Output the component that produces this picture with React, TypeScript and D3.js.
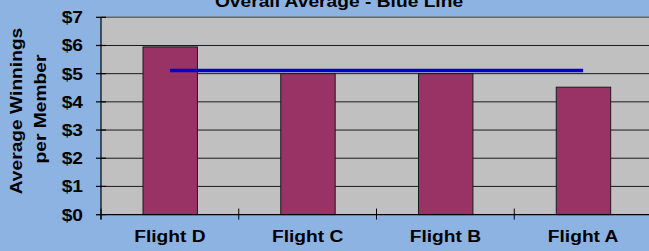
import React from "react";
import * as d3 from "d3";

const categories = ["Flight D", "Flight C", "Flight B", "Flight A"];
const values = [5.95, 5.0, 5.0, 4.52];
const averageValue = 5.11;
const yTicks = [0, 1, 2, 3, 4, 5, 6, 7];
const titleText = "Overall Average - Blue Line";
const yTitleLines = ["Average Winnings", "per Member"];

const W = 649;
const H = 251;
const plotLeft = 101;
const plotRight = 652;
const plotTop = 17.3;
const plotBottom = 214.6;
const FONT = "Liberation Sans, Arial, sans-serif";
const SX = 1.13;

export default function App() {
  const x = d3.scaleBand<string>().domain(categories).range([plotLeft, plotRight]).padding(0);
  const step = x.step();
  const y = d3.scaleLinear().domain([0, 7]).range([plotBottom, plotTop]);
  const lineGen = d3
    .line<number>()
    .x((_, i) => (x(categories[i]) as number) + step / 2)
    .y((d) => y(d));
  const avgPts = [averageValue, averageValue];
  const avgX = [categories[0], categories[categories.length - 1]];
  const avgPath = d3
    .line<string>()
    .x((c) => (x(c) as number) + step / 2)
    .y(() => y(averageValue))(avgX);

  const boundaries = categories.map((c) => x(c) as number).concat([plotRight]);

  const txt = (tx: number, ty: number, s: string, anchor: string, key?: any, rot = 0) => (
    <text
      key={key}
      transform={`translate(${tx},${ty}) rotate(${rot}) scale(${SX},1)`}
      textAnchor={anchor}
      fontFamily={FONT}
      fontWeight="bold"
      fontSize={17}
      fill="#000"
    >
      {s}
    </text>
  );

  return (
    <svg
      width={W}
      height={H}
      style={{ position: "fixed", left: 0, top: 0, display: "block" }}
    >
      <rect x={0} y={0} width={W} height={H} fill="#8DB3E2" />
      <rect
        x={plotLeft}
        y={plotTop}
        width={plotRight - plotLeft}
        height={plotBottom - plotTop}
        fill="#C0C0C0"
      />
      {/* gridlines */}
      {yTicks.slice(1, -1).map((t) => (
        <line key={"g" + t} x1={plotLeft} x2={plotRight} y1={y(t)} y2={y(t)} stroke="#1a1a1a" strokeWidth={1} />
      ))}
      {/* top border */}
      <line x1={plotLeft} x2={plotRight} y1={y(7)} y2={y(7)} stroke="#666" strokeWidth={1.6} />
      {/* bars */}
      {categories.map((c, i) => (
        <rect
          key={c}
          x={(x(c) as number) + step * 0.305}
          y={y(values[i])}
          width={step * 0.395}
          height={plotBottom - y(values[i])}
          fill="#993366"
          stroke="#1a1a1a"
          strokeWidth={1}
        />
      ))}
      {/* average line */}
      <path d={avgPath as string} stroke="#0000CC" strokeWidth={3.6} fill="none" />
      {/* axes */}
      <line x1={plotLeft} x2={plotLeft} y1={plotTop} y2={plotBottom + 5} stroke="#000" strokeWidth={1.2} />
      <line x1={plotLeft - 5} x2={plotRight} y1={plotBottom} y2={plotBottom} stroke="#000" strokeWidth={1.2} />
      {yTicks.map((t) => (
        <line key={"yt" + t} x1={plotLeft - 5} x2={plotLeft + 5} y1={y(t)} y2={y(t)} stroke="#000" strokeWidth={1.2} />
      ))}
      {boundaries.map((b, i) => (
        <line key={"xt" + i} x1={b} x2={b} y1={plotBottom - 6} y2={plotBottom + 5} stroke="#000" strokeWidth={1} />
      ))}
      {/* y tick labels */}
      {yTicks.map((t) => txt(83, y(t) + 6, "$" + t, "end", "yl" + t))}
      {/* x labels */}
      {categories.map((c) => txt((x(c) as number) + step / 2, 242.3, c, "middle", "xl" + c))}
      {/* title */}
      {txt(339, 7.3, titleText, "middle", "title")}
      {/* y title */}
      {txt(22, 111, yTitleLines[0], "middle", "yt0", -90)}
      {txt(46, 109, yTitleLines[1], "middle", "yt1", -90)}
    </svg>
  );
}
